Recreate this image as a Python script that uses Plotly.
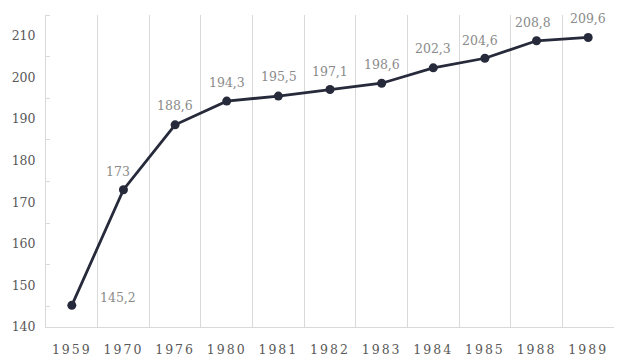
import plotly.graph_objects as go

years = ["1959", "1970", "1976", "1980", "1981", "1982", "1983", "1984", "1985", "1988", "1989"]
values = [145.2, 173, 188.6, 194.3, 195.5, 197.1, 198.6, 202.3, 204.6, 208.8, 209.6]
labels = ["145,2", "173", "188,6", "194,3", "195,5", "197,1", "198,6", "202,3", "204,6", "208,8", "209,6"]

# label offsets in pixels (style only)
label_dx = [46, -5, 0, 0, 1, 0, 0, 0, -5, -4, 0]
label_dy = [8, 18, 19, 19, 20, 18, 19, 19, 18, 18, 19]

SERIF = "DejaVu Serif, serif"

fig = go.Figure(go.Scatter(
    x=years, y=values, mode="lines+markers",
    line=dict(color="#262a3a", width=2.8),
    marker=dict(color="#262a3a", size=9),
    cliponaxis=False, hoverinfo="skip",
))

for i, (v, t, dx, dy) in enumerate(zip(values, labels, label_dx, label_dy)):
    fig.add_annotation(x=i, y=v, xref="x", yref="y", text=t, showarrow=False,
                       xshift=dx, yshift=dy,
                       font=dict(family=SERIF, size=12.5, color="#8a8a8a"))

fig.update_layout(
    width=630, height=364,
    margin=dict(l=46, r=16, t=15, b=37, autoexpand=False),
    paper_bgcolor="white", plot_bgcolor="white",
    showlegend=False,
    font=dict(family=SERIF, size=12.5, color="#595959"),
)
fig.update_xaxes(
    type="category", tickson="boundaries", showgrid=True, gridcolor="#d9d9d9", gridwidth=1,
    showline=True, linecolor="#d9d9d9", linewidth=1, ticks="", range=[-0.5, 10.5],
    tickfont=dict(family=SERIF, size=12.5, color="#595959"), automargin=False,
    ticklabelstandoff=11,
)
fig.update_yaxes(
    range=[140, 215], dtick=10, tick0=140, showgrid=False, zeroline=False,
    showline=True, linecolor="#d9d9d9", linewidth=1, ticks="",
    minor=dict(dtick=5, ticks="inside", ticklen=4, tickcolor="#d9d9d9", showgrid=False),
    tickfont=dict(family=SERIF, size=12.5, color="#595959"), ticklabelstandoff=7,
    automargin=False,
)

post = ("document.body.style.margin='0';"
        "document.head.insertAdjacentHTML('beforeend',"
        "'<style>.xtick text{letter-spacing:2px}</style>');")
fig.write_html("out.html", post_script=post, config={"displayModeBar": False, "staticPlot": True})
